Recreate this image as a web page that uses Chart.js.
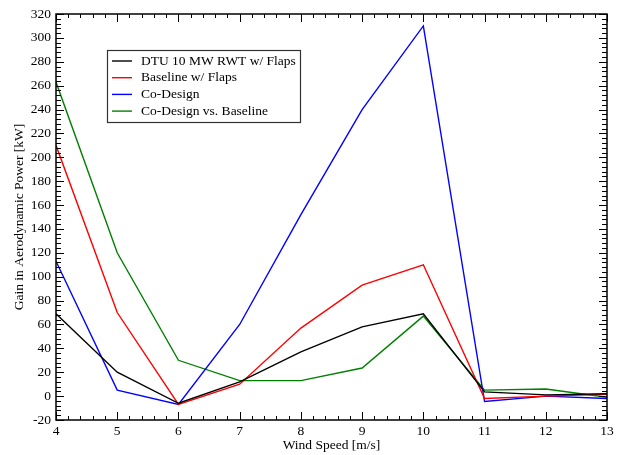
<!DOCTYPE html>
<html>
<head>
<meta charset="utf-8">
<script src="https://cdn.jsdelivr.net/npm/chart.js@4.4.1/dist/chart.umd.min.js"></script>
<style>
html,body{margin:0;padding:0;background:#fff;}
#wrap{width:622px;height:455px;position:relative;}
</style>
</head>
<body>
<div id="wrap"><canvas id="c" width="622" height="455"></canvas></div>
<script>
const windSpeed = [4, 5, 6, 7, 8, 9, 10, 11, 12, 13];
const dtuFlaps = [69, 20, -6, 12, 37, 58, 69, 3.5, 1, 2];
const baselineFlaps = [210, 70, -7, 10, 57, 93, 110, -2, 0, 1.5];
const coDesign = [113, 5, -7, 60, 152, 240, 310, -4.5, 0, -2];
const coVsBaseline = [263, 120, 30, 13, 13, 23.5, 67, 5, 6, -1];
const seriesNames = ["DTU 10 MW RWT w/ Flaps", "Baseline w/ Flaps", "Co-Design", "Co-Design vs. Baseline"];
const seriesColors = ["#000000", "#ff0000", "#0000ff", "#008000"];
const xTitle = "Wind Speed [m/s]";
const yTitle = "Gain in Aerodynamic Power [kW]";

const FONT = "'Liberation Serif', 'Times New Roman', serif";
const FS = 13.5;
const toPts = arr => arr.map((v, i) => ({x: windSpeed[i], y: v}));
const allSeries = [dtuFlaps, baselineFlaps, coDesign, coVsBaseline];

const frameTicks = {
  id: 'frameTicks',
  afterDatasetsDraw(chart) {
    const ctx = chart.ctx, a = chart.chartArea;
    const xs = chart.scales.x, ys = chart.scales.y;
    ctx.save();
    ctx.strokeStyle = '#000';
    ctx.lineWidth = 1;
    ctx.beginPath();
    for (let k = 0; k <= 45; k++) {
      const v = 4 + k * 0.2;
      const px = Math.round(xs.getPixelForValue(v)) + 0.5;
      const len = (k % 5 === 0) ? 8 : 4;
      ctx.moveTo(px, a.bottom); ctx.lineTo(px, a.bottom - len);
      ctx.moveTo(px, a.top); ctx.lineTo(px, a.top + len);
    }
    for (let k = 0; k <= 85; k++) {
      const v = -20 + k * 4;
      const py = Math.round(ys.getPixelForValue(v)) + 0.5;
      const len = (k % 5 === 0) ? 8 : 5;
      ctx.moveTo(a.left, py); ctx.lineTo(a.left + len, py);
      ctx.moveTo(a.right, py); ctx.lineTo(a.right - len, py);
    }
    ctx.stroke();
    ctx.lineWidth = 1.5;
    ctx.strokeRect(a.left, a.top, a.right - a.left, a.bottom - a.top);
    ctx.restore();
  },
  afterDraw(chart) {
    const ctx = chart.ctx;
    const bx = 107, by = 50, bw = 193, bh = 72;
    ctx.save();
    ctx.fillStyle = '#fff';
    ctx.fillRect(bx, by, bw, bh);
    ctx.strokeStyle = '#333';
    ctx.lineWidth = 1.2;
    ctx.strokeRect(bx + 0.5, by + 0.5, bw, bh);
    ctx.font = FS + 'px ' + FONT;
    ctx.textBaseline = 'middle';
    chart.data.datasets.forEach((ds, i) => {
      const y = 61 + i * 16.7;
      ctx.strokeStyle = ds.borderColor;
      ctx.lineWidth = 1.4;
      ctx.beginPath();
      ctx.moveTo(112, y); ctx.lineTo(132, y);
      ctx.stroke();
      ctx.fillStyle = '#000';
      ctx.fillText(ds.label, 141, y);
    });
    ctx.restore();
  }
};

new Chart(document.getElementById('c'), {
  type: 'line',
  data: {
    datasets: allSeries.map((s, i) => ({
      label: seriesNames[i],
      data: toPts(s),
      borderColor: seriesColors[i],
      backgroundColor: seriesColors[i],
      borderWidth: 1.4,
      pointRadius: 0,
      tension: 0,
      fill: false
    }))
  },
  options: {
    responsive: false,
    animation: false,
    devicePixelRatio: 1,
    layout: {padding: {top: 14, right: 15, left: 0, bottom: 0}},
    plugins: {legend: {display: false}, tooltip: {enabled: false}},
    scales: {
      x: {
        type: 'linear', min: 4, max: 13,
        ticks: {stepSize: 1, color: '#000', font: {family: FONT, size: FS}, padding: 3, maxRotation: 0},
        grid: {display: false, drawTicks: false},
        border: {display: false},
        title: {display: true, text: xTitle, color: '#000', font: {family: FONT, size: FS}, padding: {top: 0, bottom: 1}},
        afterFit(s) { s.height = 35; }
      },
      y: {
        type: 'linear', min: -20, max: 320,
        ticks: {stepSize: 20, color: '#000', font: {family: FONT, size: FS}, padding: 5},
        grid: {display: false, drawTicks: false},
        border: {display: false},
        title: {display: true, text: yTitle, color: '#000', font: {family: FONT, size: FS}, padding: {top: 11, bottom: 0}},
        afterFit(s) { s.width = 56; }
      }
    }
  },
  plugins: [frameTicks]
});
</script>
</body>
</html>
